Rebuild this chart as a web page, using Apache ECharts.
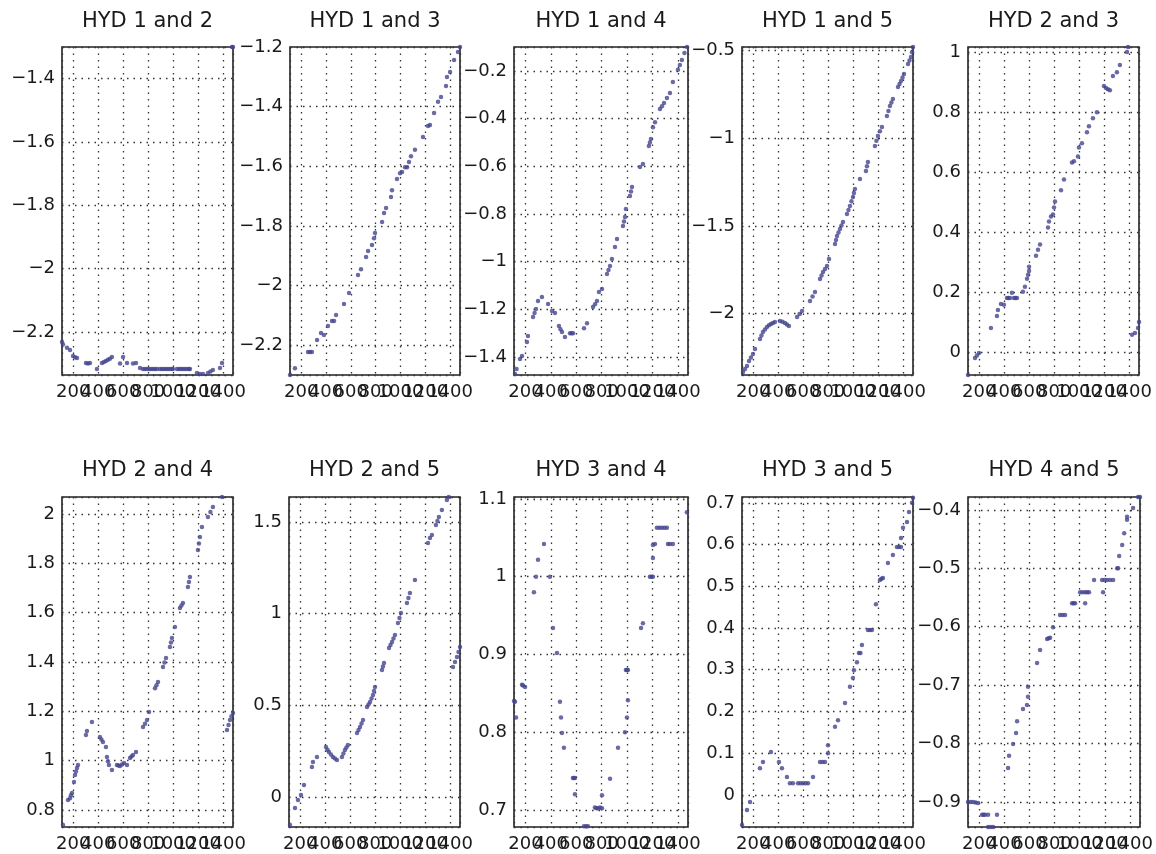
<!DOCTYPE html>
<html>
<head>
<meta charset="utf-8">
<title>HYD pairs</title>
<script src="https://cdn.jsdelivr.net/npm/echarts@6/dist/echarts.min.js"></script>
<style>
  html, body { margin: 0; padding: 0; background: #fff; }
  #main { width: 1156px; height: 854px; }
</style>
</head>
<body>
<div id="main"></div>
<script>
// panel titles
var titles = ['HYD 1 and 2', 'HYD 1 and 3', 'HYD 1 and 4', 'HYD 1 and 5', 'HYD 2 and 3',
              'HYD 2 and 4', 'HYD 2 and 5', 'HYD 3 and 4', 'HYD 3 and 5', 'HYD 4 and 5'];

// x tick labels (shared)
var xTicks = [200, 400, 600, 800, 1000, 1200, 1400];

// HYD 1 and 2
var hyd12X = [110, 118, 150, 174, 198, 214, 230, 302, 318, 334, 390, 430, 446, 462, 478, 494, 510, 575, 599, 631, 679, 703, 735,
              759, 775, 791, 807, 823, 839, 855, 871, 895, 911, 927, 943, 959, 975, 991, 999, 1031, 1047, 1063, 1079, 1095, 1111, 1127, 1135,
              1191, 1215, 1239, 1279, 1299, 1319, 1376, 1392, 1472, 1480];
var hyd12Y = [-2.232, -2.24, -2.25, -2.257, -2.276, -2.28, -2.282, -2.298, -2.3, -2.298, -2.317, -2.298, -2.295, -2.292, -2.288, -2.285, -2.279, -2.3, -2.279, -2.298, -2.3, -2.298, -2.314,
              -2.317, -2.317, -2.317, -2.317, -2.317, -2.317, -2.317, -2.317, -2.317, -2.317, -2.317, -2.317, -2.317, -2.317, -2.317, -2.317, -2.317, -2.317, -2.317, -2.317, -2.317, -2.317, -2.317, -2.317,
              -2.33, -2.333, -2.333, -2.33, -2.325, -2.32, -2.314, -2.298, -1.3, -1.3];

// HYD 1 and 3
var hyd13X = [110, 150, 255, 271, 287, 328, 360, 384, 416, 448, 465, 481, 545, 586, 658, 682, 723, 739, 771, 787, 795, 852, 868, 884, 924, 932,
              972, 997, 1013, 1037, 1053, 1069, 1085, 1117, 1182, 1222, 1238, 1271, 1303, 1327, 1367, 1375, 1400, 1432, 1464, 1480];
var hyd13Y = [-2.3, -2.277, -2.223, -2.223, -2.223, -2.183, -2.159, -2.166, -2.136, -2.119, -2.119, -2.099, -2.062, -2.025, -1.965, -1.945, -1.904, -1.884, -1.864, -1.841, -1.824, -1.787, -1.757, -1.74, -1.703, -1.68,
              -1.643, -1.623, -1.619, -1.603, -1.603, -1.586, -1.566, -1.545, -1.502, -1.465, -1.462, -1.421, -1.384, -1.368, -1.331, -1.301, -1.284, -1.244, -1.217, -1.2];

// HYD 1 and 4
var hyd14X = [118, 130, 157, 173, 212, 220, 260, 272, 283, 299, 330, 378, 409, 433, 464, 476, 488, 511, 551, 563, 575, 661, 685, 732, 748, 763, 779, 803,
              842, 854, 866, 881, 905, 921, 968, 976, 984, 991, 1023, 1031, 1039, 1102, 1125, 1172, 1180, 1188, 1204, 1220,
              1259, 1275, 1291, 1314, 1338, 1361, 1401, 1416, 1432, 1452, 1472];
var hyd14Y = [-1.471, -1.45, -1.408, -1.395, -1.337, -1.311, -1.232, -1.215, -1.198, -1.165, -1.148, -1.177, -1.207, -1.215, -1.27, -1.283, -1.295, -1.316, -1.3, -1.3, -1.3, -1.279, -1.258, -1.19, -1.178, -1.165, -1.127, -1.114,
              -1.052, -1.035, -1.018, -0.989, -0.938, -0.905, -0.85, -0.832, -0.813, -0.779, -0.725, -0.706, -0.687, -0.603, -0.59, -0.515, -0.5, -0.486, -0.436, -0.415,
              -0.36, -0.348, -0.335, -0.314, -0.293, -0.247, -0.195, -0.175, -0.154, -0.125, -0.1];

// HYD 1 and 5
var hyd15X = [118, 134, 150, 166, 182, 198, 214, 254, 266, 278, 294, 310, 326, 342, 358, 374, 414, 434, 454, 470, 486, 551, 571, 591, 655, 675, 695,
              735, 747, 759, 775, 791, 807, 855, 863, 871, 883, 895, 907, 919, 951, 963, 975, 987, 999, 1007, 1015, 1055, 1103, 1111, 1119,
              1175, 1187, 1199, 1215, 1231, 1271, 1283, 1295, 1307, 1319, 1360, 1372, 1384, 1396, 1408, 1440, 1452, 1464, 1472, 1480];
var hyd15Y = [-2.333, -2.316, -2.299, -2.27, -2.25, -2.23, -2.202, -2.145, -2.125, -2.105, -2.09, -2.076, -2.067, -2.059, -2.053, -2.048, -2.042, -2.047, -2.053, -2.062, -2.07, -2.019, -2.002, -1.985, -1.928, -1.902, -1.877,
              -1.803, -1.783, -1.763, -1.745, -1.728, -1.689, -1.603, -1.58, -1.558, -1.538, -1.518, -1.498, -1.478, -1.432, -1.409, -1.386, -1.36, -1.335, -1.312, -1.29, -1.233, -1.187, -1.16, -1.136,
              -1.044, -1.015, -0.987, -0.96, -0.936, -0.873, -0.845, -0.816, -0.796, -0.776, -0.708, -0.691, -0.674, -0.654, -0.634, -0.577, -0.557, -0.537, -0.51, -0.48];

// HYD 2 and 3
var hyd23X = [110, 166, 182, 198, 294, 342, 350, 374, 398, 422, 434, 446, 462, 478, 490, 502, 550, 566, 583, 591, 599, 599, 655, 671, 687,
              751, 759, 775, 791, 799, 807, 855, 879, 943, 959, 991, 999, 1023, 1063, 1079, 1111, 1143, 1199, 1215, 1231, 1247,
              1271, 1303, 1327, 1384, 1392, 1424, 1448, 1472, 1480];
var hyd23Y = [-0.077, -0.02, -0.012, -0.004, 0.08, 0.12, 0.14, 0.16, 0.157, 0.18, 0.18, 0.18, 0.197, 0.18, 0.18, 0.18, 0.201, 0.217, 0.244, 0.257, 0.27, 0.284, 0.321, 0.341, 0.358,
              0.415, 0.435, 0.452, 0.458, 0.482, 0.502, 0.539, 0.575, 0.632, 0.636, 0.652, 0.682, 0.696, 0.733, 0.753, 0.779, 0.799, 0.887, 0.88, 0.876, 0.873,
              0.92, 0.933, 0.957, 1.0, 1.017, 0.057, 0.063, 0.08, 0.1];

// HYD 2 and 4
var hyd24X = [118, 158, 174, 182, 190, 206, 214, 222, 230, 238, 302, 310, 350, 414, 426, 438, 462, 470, 478, 486, 510, 550, 563, 575, 591, 607, 631,
              655, 667, 679, 703, 759, 775, 791, 807, 855, 867, 879, 919, 931, 943, 975, 983, 991, 1015, 1055, 1067, 1079, 1119, 1127, 1135,
              1199, 1207, 1215, 1231, 1279, 1299, 1319, 1392, 1432, 1444, 1456, 1468, 1480];
var hyd24Y = [0.739, 0.84, 0.848, 0.86, 0.869, 0.913, 0.942, 0.956, 0.97, 0.982, 1.104, 1.12, 1.157, 1.096, 1.086, 1.076, 1.055, 1.015, 0.998, 0.982, 0.962, 0.982, 0.98, 0.978, 0.984, 0.99, 0.982,
              1.011, 1.017, 1.023, 1.035, 1.136, 1.15, 1.165, 1.197, 1.294, 1.306, 1.319, 1.38, 1.398, 1.416, 1.461, 1.479, 1.497, 1.542, 1.619, 1.629, 1.639, 1.704, 1.724, 1.745,
              1.854, 1.88, 1.907, 1.947, 1.988, 2.008, 2.028, 2.069, 1.124, 1.145, 1.165, 1.18, 1.193];

// HYD 2 and 5
var hyd25X = [118, 158, 182, 206, 230, 294, 302, 334, 406, 418, 430, 446, 462, 478, 494, 534, 546, 558, 570, 582, 655, 667, 679, 691, 703,
              735, 747, 759, 771, 783, 791, 799, 855, 863, 871, 911, 923, 935, 947, 959, 983, 995, 1007, 1055, 1067, 1079, 1119,
              1223, 1239, 1255, 1287, 1299, 1311, 1335, 1375, 1390, 1424, 1440, 1456, 1468, 1480];
var hyd25Y = [-0.153, -0.06, -0.017, 0.01, 0.065, 0.163, 0.19, 0.218, 0.272, 0.258, 0.245, 0.232, 0.218, 0.21, 0.201, 0.218, 0.237, 0.256, 0.27, 0.283, 0.349, 0.365, 0.381, 0.4, 0.42,
              0.49, 0.504, 0.518, 0.537, 0.556, 0.578, 0.6, 0.692, 0.711, 0.73, 0.812, 0.829, 0.845, 0.864, 0.883, 0.949, 0.976, 1.003, 1.058, 1.085, 1.112, 1.183,
              1.385, 1.412, 1.429, 1.483, 1.505, 1.527, 1.565, 1.62, 1.636, 0.709, 0.736, 0.763, 0.79, 0.818];

// HYD 3 and 4
var hyd34X = [110, 118, 126, 173, 181, 197, 267, 283, 299, 346, 393, 417, 448, 472, 480, 488, 503, 574, 582, 590, 590, 661, 677, 692,
              747, 759, 771, 787, 803, 803, 866, 929, 984, 999, 1007, 991, 999, 1007, 1110, 1125, 1180, 1192, 1204, 1204, 1204, 1220,
              1235, 1255, 1275, 1295, 1314, 1322, 1338, 1361, 1471, 1479];
var hyd34Y = [0.84, 0.839, 0.819, 0.861, 0.86, 0.858, 0.98, 1.0, 1.022, 1.042, 1.0, 0.934, 0.902, 0.839, 0.819, 0.799, 0.78, 0.741, 0.741, 0.741, 0.72, 0.679, 0.679, 0.679,
              0.703, 0.702, 0.702, 0.703, 0.702, 0.719, 0.74, 0.78, 0.8, 0.819, 0.841, 0.88, 0.88, 0.88, 0.934, 0.94, 1.0, 1.0, 1.0, 1.024, 1.041, 1.042,
              1.063, 1.063, 1.063, 1.063, 1.063, 1.042, 1.042, 1.042, 1.083, 1.103];

// HYD 3 and 5
var hyd35X = [110, 150, 174, 254, 278, 342, 406, 430, 470, 494, 518, 559, 579, 599, 619, 639, 679, 735, 755, 775, 799, 799, 855, 879, 935,
              975, 999, 1007, 1031, 1047, 1059, 1071, 1119, 1135, 1151, 1183, 1215, 1227, 1239, 1279, 1319, 1351, 1367, 1384, 1384, 1400, 1432, 1448, 1472, 1480];
var hyd35Y = [-0.072, -0.036, -0.017, 0.064, 0.079, 0.103, 0.079, 0.064, 0.043, 0.028, 0.028, 0.028, 0.028, 0.028, 0.028, 0.028, 0.043, 0.079, 0.079, 0.079, 0.1, 0.119, 0.163, 0.179, 0.22,
              0.259, 0.28, 0.299, 0.318, 0.34, 0.34, 0.359, 0.395, 0.395, 0.395, 0.457, 0.515, 0.518, 0.52, 0.556, 0.575, 0.594, 0.594, 0.594, 0.616, 0.64, 0.654, 0.678, 0.7, 0.712];

// HYD 4 and 5
var hyd45X = [110, 130, 150, 170, 190, 222, 234, 246, 270, 341, 270, 290, 310, 429, 437, 469, 493, 501, 548, 580, 588, 588, 660, 684, 740, 752, 764, 787,
              843, 863, 883, 939, 951, 963, 1003, 1023, 1043, 1059, 1074, 1043, 1114, 1178, 1198, 1218, 1242, 1266, 1186,
              1298, 1306, 1314, 1338, 1354, 1377, 1377, 1425, 1465, 1480];
var hyd45Y = [-0.9, -0.9, -0.9, -0.901, -0.902, -0.922, -0.922, -0.922, -0.922, -0.922, -0.943, -0.943, -0.943, -0.842, -0.821, -0.801, -0.782, -0.762, -0.741, -0.734, -0.72, -0.703, -0.662, -0.64, -0.621, -0.62, -0.619, -0.601,
              -0.58, -0.58, -0.58, -0.56, -0.56, -0.56, -0.541, -0.541, -0.541, -0.541, -0.541, -0.56, -0.52, -0.52, -0.52, -0.52, -0.52, -0.52, -0.541,
              -0.5, -0.5, -0.479, -0.46, -0.44, -0.417, -0.412, -0.397, -0.378, -0.378];

var panelX = [hyd12X, hyd13X, hyd14X, hyd15X, hyd23X, hyd24X, hyd25X, hyd34X, hyd35X, hyd45X];
var panelY = [hyd12Y, hyd13Y, hyd14Y, hyd15Y, hyd23Y, hyd24Y, hyd25Y, hyd34Y, hyd35Y, hyd45Y];

// y axis extents and tick steps
var yMin = [-2.336, -2.30, -1.475, -2.35, -0.077, 0.731, -0.164, 0.678, -0.077, -0.943];
var yMax = [-1.30, -1.20, -0.10, -0.48, 1.017, 2.069, 1.636, 1.1026, 0.714, -0.378];
var yStep = [0.2, 0.2, 0.2, 0.5, 0.2, 0.2, 0.5, 0.1, 0.1, 0.1];

var xMin = 110, xMax = 1480, xStep = 200;

// panel boxes (px)
var boxLeft = [62, 290, 514, 742, 968, 62, 289, 514, 742, 968];
var boxWidth = [171, 170, 174, 171, 171, 171, 171, 174, 171, 172];
var rowTop = [47, 497];
var rowHeight = [328, 330];

var font = 'DejaVu Sans';
var gridDots = { color: '#333', width: 1.3, type: [1.5, 5] };

function fmtY(step) {
    return function (v) {
        var k = v / step;
        if (Math.abs(k - Math.round(k)) > 1e-6) return '';
        var s = String(parseFloat((Math.round(k) * step).toFixed(3)));
        return s.replace('-', '\u2212');
    };
}

function fmtX(v) {
    return xTicks.indexOf(Math.round(v)) >= 0 && Math.abs(v - Math.round(v)) < 1e-6 ? String(Math.round(v)) : '';
}

var chart = echarts.init(document.getElementById('main'));

var grids = [], xAxes = [], yAxes = [], series = [], titleList = [];
for (var i = 0; i < 10; i++) {
    var row = i < 5 ? 0 : 1;
    grids.push({
        left: boxLeft[i], top: rowTop[row], width: boxWidth[i], height: rowHeight[row],
        show: true, borderColor: '#222', borderWidth: 1.6, backgroundColor: '#fff'
    });
    titleList.push({
        text: titles[i],
        left: boxLeft[i] + boxWidth[i] / 2 - 5,
        top: row === 0 ? 6 : 455,
        textAlign: 'center',
        textStyle: { fontFamily: font, fontSize: 21, fontWeight: 'normal', color: '#1a1a1a' }
    });
    xAxes.push({
        gridIndex: i, type: 'value', min: xMin, max: xMax,
        minInterval: xStep, maxInterval: xStep,
        axisLine: { show: false }, axisTick: { show: false },
        axisLabel: { fontFamily: font, fontSize: 18, color: '#1a1a1a', margin: 8, formatter: fmtX, hideOverlap: false },
        splitLine: { show: true, lineStyle: gridDots }
    });
    yAxes.push({
        gridIndex: i, type: 'value', min: yMin[i], max: yMax[i],
        minInterval: yStep[i], maxInterval: yStep[i],
        axisLine: { show: false }, axisTick: { show: false },
        axisLabel: { fontFamily: font, fontSize: 18, color: '#1a1a1a', margin: 7, formatter: fmtY(yStep[i]) },
        splitLine: { show: true, lineStyle: gridDots }
    });
    var pts = [];
    for (var j = 0; j < panelX[i].length; j++) {
        pts.push([panelX[i][j], panelY[i][j]]);
    }
    series.push({
        type: 'scatter', xAxisIndex: i, yAxisIndex: i,
        symbol: 'circle', symbolSize: 4.5,
        itemStyle: { color: '#45458f' },
        data: pts
    });
}

chart.setOption({
    animation: false,
    backgroundColor: '#fff',
    title: titleList,
    grid: grids,
    xAxis: xAxes,
    yAxis: yAxes,
    series: series
});
</script>
</body>
</html>
